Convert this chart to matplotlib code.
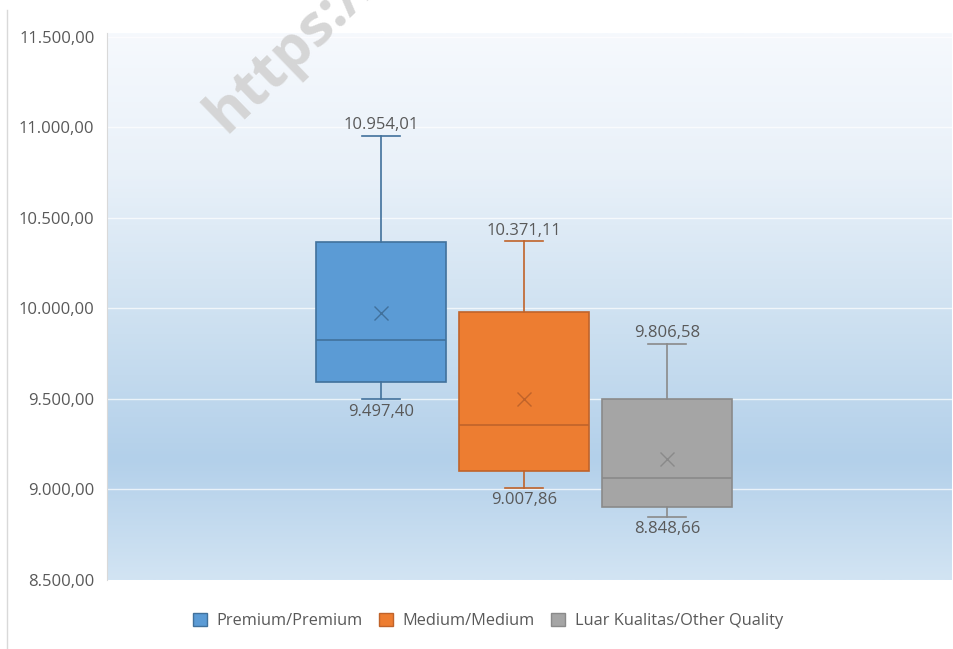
import numpy as np
import matplotlib
matplotlib.use("Agg")
import matplotlib.pyplot as plt
from matplotlib.patches import Patch
from matplotlib.lines import Line2D
from matplotlib.colors import LinearSegmentedColormap

plt.rcParams['font.family'] = ['Open Sans', 'DejaVu Sans']

# ---- data ----
series = ["Premium/Premium", "Medium/Medium", "Luar Kualitas/Other Quality"]
whis_low = [9497.40, 9007.86, 8848.66]
q1_vals = [9592, 9100, 8905]
medians = [9828, 9358, 9063]
q3_vals = [10365, 9978, 9502]
whis_high = [10954.01, 10371.11, 9806.58]
means = [9975, 9500, 9170]
yticks = [8500, 9000, 9500, 10000, 10500, 11000, 11500]

fills = ["#5b9bd5", "#ed7d31", "#a5a5a5"]
edges = ["#41719c", "#c0632a", "#8a8a8a"]

def fmt(v):
    s = f"{v:,.2f}"
    return s.replace(",", "X").replace(".", ",").replace("X", ".")

W, H = 954, 649
fig = plt.figure(figsize=(W / 100, H / 100), dpi=100)
ax = fig.add_axes([107 / W, (H - 580) / H, 845 / W, (580 - 33) / H])

ymin, ymax = 8500, 11522
ax.set_ylim(ymin, ymax)
xl, xr = -0.916, 4.993
ax.set_xlim(xl, xr)

# gradient background
cmap = LinearSegmentedColormap.from_list(
    "bg", [(0.0, "#f6f9fd"), (0.25, "#e9f1f9"), (0.55, "#cbdff0"),
           (0.78, "#b3d0ea"), (1.0, "#d2e4f3")])
grad = np.linspace(0, 1, 256).reshape(-1, 1)
ax.imshow(grad, aspect="auto", cmap=cmap, extent=[xl, xr, ymin, ymax],
          origin="upper", zorder=0)

for y in yticks[1:]:
    ax.axhline(y, color="white", lw=1.0, alpha=0.7, zorder=1)

positions = [1, 2, 3]
for i in range(3):
    stats = [dict(med=medians[i], q1=q1_vals[i], q3=q3_vals[i],
                  whislo=whis_low[i], whishi=whis_high[i], mean=means[i],
                  fliers=[])]
    ax.bxp(stats, positions=[positions[i]], widths=0.91, showmeans=True,
           patch_artist=True, capwidths=0.27, manage_ticks=False,
           boxprops=dict(facecolor=fills[i], edgecolor=edges[i], lw=1.2),
           medianprops=dict(color=edges[i], lw=1.2),
           whiskerprops=dict(color=edges[i], lw=1.2),
           capprops=dict(color=edges[i], lw=1.2),
           meanprops=dict(marker="x", markeredgecolor=edges[i],
                          markersize=10, markeredgewidth=1.0),
           zorder=3)
    ax.annotate(fmt(whis_high[i]), (positions[i], whis_high[i]),
                xytext=(0, 2), textcoords="offset points",
                ha="center", va="bottom", fontsize=12, color="#595959")
    ax.annotate(fmt(whis_low[i]), (positions[i], whis_low[i]),
                xytext=(0, -3), textcoords="offset points",
                ha="center", va="top", fontsize=12, color="#595959")

ax.set_yticks(yticks)
ax.set_yticklabels([fmt(v) for v in yticks], fontsize=12, color="#595959")
ax.set_xticks([])
ax.tick_params(axis="y", length=0, pad=9)
for s in ["top", "right", "bottom"]:
    ax.spines[s].set_visible(False)
ax.spines["left"].set_color("#d9d9d9")

handles = [Patch(facecolor=fills[i], edgecolor=edges[i], label=series[i])
           for i in range(3)]
fig.legend(handles=handles, loc="center", bbox_to_anchor=(488 / W, 1 - 621 / H),
           ncol=3, frameon=False, fontsize=11.8, handlelength=0.85,
           handleheight=0.85, handletextpad=0.6, columnspacing=1.0,
           labelcolor="#595959")

# chart area border line on the left
fig.add_artist(Line2D([7 / W, 7 / W], [0, 1 - 10 / H], color="#d9d9d9", lw=1))

# watermark (cut off by the top edge, as in the reference)
fig.text(226 / W, 1 - 134 / H, "https://", rotation=44, fontsize=42,
         fontweight="bold", color="#d2d2d2", alpha=0.9, ha="left",
         va="baseline", rotation_mode="anchor", zorder=10)

fig.savefig("out.png", dpi=100)
